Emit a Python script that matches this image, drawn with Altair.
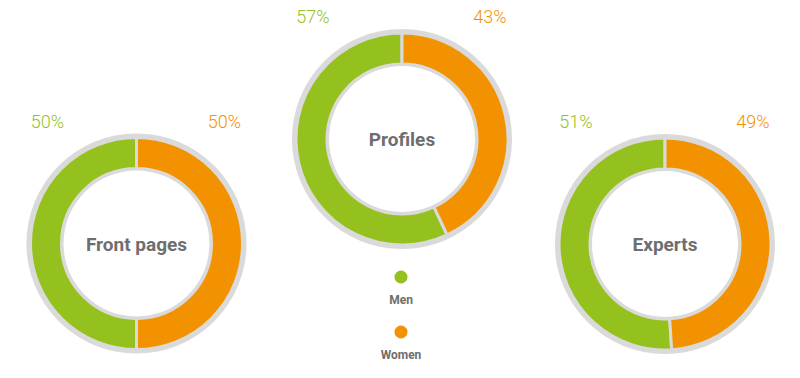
import altair as alt
import pandas as pd

groups = ["Front pages", "Profiles", "Experts"]
men = [50, 57, 51]
women = [50, 43, 49]
genders = ["Men", "Women"]
colors = ["#95c11f", "#f39200"]

GRAY = "#dadada"
TXT = "#6e6e6e"

rows = []
for g, m, w in zip(groups, men, women):
    rows.append({"group": g, "gender": "Men", "value": m, "ord": 1, "label": f"{m}%"})
    rows.append({"group": g, "gender": "Women", "value": w, "ord": 0, "label": f"{w}%"})
df = pd.DataFrame(rows)

color_scale = alt.Scale(domain=genders, range=colors)


def panel(group, width, cx, cy, legend=False):
    base = alt.Chart(df).transform_filter(alt.datum.group == group)
    ring = alt.Chart(df).transform_filter(alt.datum.group == group).transform_filter(
        alt.datum.gender == "Men"
    ).mark_arc(radius=110, radius2=73, theta=0, theta2=6.2832, color=GRAY).encode(
        x=alt.value(cx), y=alt.value(cy)
    )
    arcs = base.mark_arc(radius=106, radius2=75, stroke=GRAY, strokeWidth=3).encode(
        theta=alt.Theta("value:Q", stack=True),
        order=alt.Order("ord:Q"),
        color=alt.Color("gender:N", scale=color_scale, legend=None),
        x=alt.value(cx),
        y=alt.value(cy),
    )
    title = base.transform_filter(alt.datum.gender == "Men").mark_text(
        font="Roboto", fontWeight="bold", fontSize=19, color=TXT, baseline="middle"
    ).encode(text="group:N", x=alt.value(cx), y=alt.value(cy + 1))
    pct = base.mark_text(font="Roboto", fontSize=18, fontWeight=300, baseline="middle").encode(
        text="label:N",
        x=alt.X("gender:N", scale=alt.Scale(domain=genders, range=[cx - 89, cx + 88], padding=0), axis=None),
        y=alt.value(cy - 121),
        color=alt.Color("gender:N", scale=color_scale, legend=None),
    )
    layers = [ring, arcs, title, pct]
    if legend:
        leg = alt.Chart(df).transform_filter(alt.datum.group == group)
        yenc = alt.Y("gender:N", scale=alt.Scale(domain=genders, range=[269, 324], padding=0), axis=None)
        dots = leg.mark_point(filled=True, size=170, opacity=1, shape="circle").encode(
            y=yenc,
            x=alt.value(cx - 1),
            color=alt.Color("gender:N", scale=color_scale, legend=None),
        )
        labs = leg.mark_text(font="Roboto", fontWeight="bold", fontSize=12, color=TXT, dy=23).encode(
            y=yenc,
            x=alt.value(cx - 1),
            text="gender:N",
        )
        layers += [dots, labs]
    return alt.layer(*layers).properties(width=width, height=362).resolve_scale(
        x="independent", y="independent"
    )


chart = alt.hconcat(
    panel("Front pages", 257, 128.5, 235.5),
    panel("Profiles", 274, 137, 131, legend=True),
    panel("Experts", 252, 126, 236),
    spacing=0,
).configure_view(stroke=None).properties(padding=0)

chart.save("out.html", embed_options={"renderer": "svg", "actions": False})
